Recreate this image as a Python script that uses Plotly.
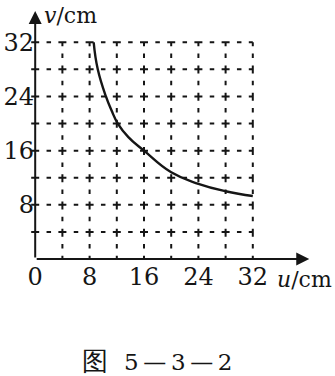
import plotly.graph_objects as go

# data
u_vals = [8.6, 9.2, 10.4, 11.2, 12.15, 13.7, 16, 20, 24, 28, 32]
v_vals = [32, 28, 24, 22, 20, 18, 16, 12.8, 11.1, 10.0, 9.3]
x_ticks = [0, 8, 16, 24, 32]
x_ticktext = ["0", "8", "16", "24", "32"]
y_ticks = [8, 16, 24, 32]
y_ticktext = ["8", "16", "24", "32"]
grid_vals = [4, 8, 12, 16, 20, 24, 28, 32]
caption_fig = "图"
caption_num = "5\u2009—\u20093\u2009—\u20092"

SERIF = "DejaVu Serif"
INK = "#151515"

fig = go.Figure()
fig.add_trace(go.Scatter(x=u_vals, y=v_vals, mode="lines",
                         line=dict(color=INK, width=2.4, shape="spline", smoothing=1.3),
                         hoverinfo="skip", showlegend=False))

PX = 6.8
arm = 4.0 / PX  # half-length of the cross arms, in data units
shapes = []
for g in grid_vals:
    shapes.append(dict(type="line", xref="x", yref="y", x0=-arm, x1=32, y0=g, y1=g,
                       line=dict(color=INK, width=2, dash="8px,7.35px,4.5px,7.35px"),
                       layer="below"))
    shapes.append(dict(type="line", xref="x", yref="y", x0=g, x1=g, y0=32, y1=0,
                       line=dict(color=INK, width=2,
                                 dash="4px,7.35px,4.5px,7.35px,4px,0px"),
                       layer="below"))
fig.update_layout(shapes=shapes)

caption = ('<span style="font-size:26px">' + caption_fig + '</span>'
           + "\u2002\u2009" + caption_num)

annotations = [
    dict(x=40.3, y=0, ax=0, ay=0, xref="x", yref="y", axref="x", ayref="y",
         showarrow=True, arrowhead=2, arrowsize=1.3, arrowwidth=2, arrowcolor=INK, text=""),
    dict(x=0, y=36.6, ax=0, ay=0, xref="x", yref="y", axref="x", ayref="y",
         showarrow=True, arrowhead=2, arrowsize=1.3, arrowwidth=2, arrowcolor=INK, text=""),
    dict(x=275, y=376 - 280, xref="paper", yref="paper", text="<i>u</i>/cm", showarrow=False,
         xanchor="left", yanchor="middle", font=dict(family=SERIF, size=22, color=INK)),
    dict(x=42, y=376 - 15, xref="paper", yref="paper", text="<i>v</i>/cm", showarrow=False,
         xanchor="left", yanchor="middle", font=dict(family=SERIF, size=22, color=INK)),
    dict(x=157, y=376 - 362, xref="paper", yref="paper", text=caption,
         showarrow=False, xanchor="center", yanchor="middle",
         font=dict(family=SERIF, size=23, color=INK)),
]

x0r, x1r = -1.5, 41
y0r, y1r = 0, 37.5
l = 35 - (0 - x0r) * PX
w = (x1r - x0r) * PX
h = (y1r - y0r) * PX
b = 376 - 259.5
t = 376 - b - h
r = 335 - l - w

for a in annotations:
    if a.get("xref") == "paper":
        a["x"] = (a["x"] - l) / w
        a["y"] = (a["y"] - b) / h
fig.update_layout(annotations=annotations)

fig.update_layout(
    width=335, height=376,
    margin=dict(l=l, r=r, t=t, b=b, pad=0),
    paper_bgcolor="white", plot_bgcolor="white",
    xaxis=dict(range=[x0r, x1r], showgrid=False, zeroline=False, showline=False,
               tickvals=x_ticks, ticktext=x_ticktext, ticks="",
               tickfont=dict(family=SERIF, size=24, color=INK), ticklabelstandoff=1),
    yaxis=dict(range=[y0r, y1r], showgrid=False, zeroline=False, showline=False,
               tickvals=y_ticks, ticktext=y_ticktext, ticks="",
               tickfont=dict(family=SERIF, size=24, color=INK), ticklabelstandoff=-10),
)

fig.write_html("out.html")
